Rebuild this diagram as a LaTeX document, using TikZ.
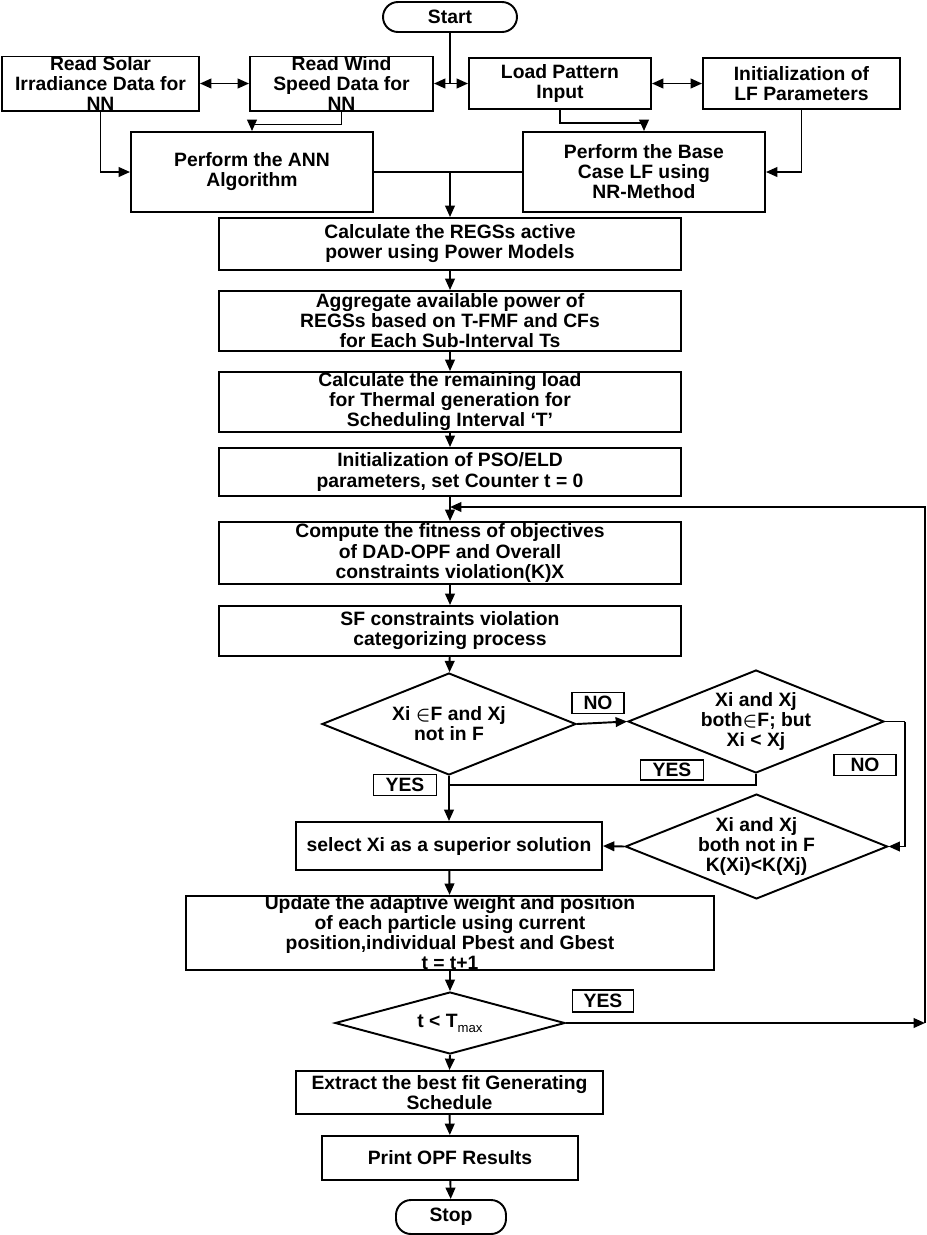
\documentclass[tikz,border=0pt]{standalone}
\usepackage{fontspec}
\setmainfont{Liberation Sans}
\usetikzlibrary{arrows.meta,shapes.geometric}
\begin{document}
\begin{tikzpicture}[x=0.02cm, y=-0.02cm, line width=1.1pt,
    every node/.style={font=\bfseries\fontsize{11}{11.4}\selectfont, align=center, inner sep=0pt},
    blk/.style={draw, rectangle},
    term/.style={draw, rectangle, rounded corners=0.3cm},
    dec/.style={draw, diamond, shape aspect=2.5},
    tag/.style={draw, rectangle, line width=0.9pt},
    arr/.style={-{Triangle[length=6.5pt,width=5.5pt]}},
    darr/.style={{Triangle[length=6.5pt,width=5.5pt]}-{Triangle[length=6.5pt,width=5.5pt]}}]
        \useasboundingbox (0,0) rectangle (927,1235);
        \coordinate (c1) at (450,17);
        \coordinate (c2) at (100.5,83.5);
        \coordinate (c3) at (341.5,83.5);
        \coordinate (c4) at (560,83.5);
        \coordinate (c5) at (801.5,83.5);
        \coordinate (c6) at (252,172);
        \coordinate (c7) at (644,172);
        \node[term, minimum width=2.68cm, minimum height=0.6cm] (start) at (c1) {Start};
        \node[blk, minimum width=3.94cm, minimum height=1.02cm] (solar) at (c2) {Read Solar\\Irradiance Data for\\NN};
        \node[blk, minimum width=3.66cm, minimum height=1.02cm] (wind) at (c3) {Read Wind\\Speed Data for\\NN};
        \node[blk, minimum width=3.64cm, minimum height=1.02cm] (load) at (c4) {Load Pattern\\Input};
        \node[blk, minimum width=3.94cm, minimum height=1.02cm] (lfinit) at (c5) {Initialization of\\LF Parameters};
        \node[blk, minimum width=4.84cm, minimum height=1.6cm] (ann) at (c6) {Perform the ANN\\Algorithm};
        \node[blk, minimum width=4.84cm, minimum height=1.6cm] (baself) at (c7) {Perform the Base\\Case LF using\\NR-Method};
        \node[blk, minimum width=9.24cm, minimum height=1.04cm] (regs) at (450,244) {Calculate the REGSs active\\power using Power Models};
        \node[blk, minimum width=9.24cm, minimum height=1.2cm] (aggr) at (450,321) {Aggregate available power of\\REGSs based on T-FMF and CFs\\for Each Sub-Interval Ts};
        \node[blk, minimum width=9.24cm, minimum height=1.2cm] (remain) at (450,402) {Calculate the remaining load\\for Thermal generation for\\Scheduling Interval ‘T’};
        \node[blk, minimum width=9.24cm, minimum height=0.96cm] (psoinit) at (450,472) {Initialization of PSO/ELD\\parameters, set Counter t = 0};
        \node[blk, minimum width=9.24cm, minimum height=1.24cm] (fitness) at (450,553) {Compute the fitness of objectives\\of DAD-OPF and Overall\\constraints violation(K)X};
        \node[blk, minimum width=9.24cm, minimum height=1.0cm] (sf) at (450,631) {SF constraints violation\\categorizing process};
        \node[dec, minimum width=5.08cm, minimum height=2.04cm] (dec1) at (449,724) {Xi {\boldmath$\in$}F and Xj\\not in F};
        \node[dec, minimum width=5.12cm, minimum height=2.06cm] (dec2) at (756,721.5) {Xi and Xj\\both{\boldmath$\in$}F; but\\Xi < Xj};
        \node[dec, minimum width=5.1cm, minimum height=2.06cm] (dec3) at (756.5,846.5) {Xi and Xj\\both not in F\\K(Xi)<K(Xj)};
        \node[blk, minimum width=6.12cm, minimum height=0.96cm] (select) at (449,846) {select Xi as a superior solution};
        \node[blk, minimum width=10.56cm, minimum height=1.48cm] (update) at (450,933) {Update the adaptive weight and position\\of each particle using current\\position,individual Pbest and Gbest\\t = t+1};
        \node[dec, shape aspect=3.7, minimum width=4.6cm, minimum height=1.24cm] (dec4) at (450,1023) {t < T\raisebox{-0.5ex}{\mdseries\fontsize{7.5}{7.5}\selectfont max}};
        \node[blk, minimum width=6.14cm, minimum height=0.86cm] (extract) at (449.5,1092.5) {Extract the best fit Generating\\Schedule};
        \node[blk, minimum width=5.12cm, minimum height=0.88cm] (print) at (450,1158) {Print OPF Results};
        \node[term, minimum width=2.2cm, minimum height=0.68cm] (stop) at (451,1217) {Stop};
        % decision labels
        \node[tag, minimum width=1.04cm, minimum height=0.42cm] (no1) at (598,703) {NO};
        \node[tag, minimum width=1.24cm, minimum height=0.42cm] (no2) at (865,765) {NO};
        \node[tag, minimum width=1.26cm, minimum height=0.4cm] (yes1) at (672,770) {YES};
        \node[tag, minimum width=1.26cm, minimum height=0.42cm] (yes2) at (405,785) {YES};
        \node[tag, minimum width=1.22cm, minimum height=0.44cm] (yes3) at (603,1001) {YES};
        \coordinate (j1) at (450,83.5);
        \coordinate (j2) at (450,172);
        \coordinate (j3) at (450,785);
        \coordinate (j4) at (905,721.5);
        \coordinate (l1) at (925,1023);
        \coordinate (l2) at (925,507);
        \coordinate (l3) at (450,507);
        \draw (start) -- (j1);
        \draw[arr] (j1) -- (wind.east);
        \draw[arr] (j1) -- (load.west);
        \draw[darr] (solar) -- (wind);
        \draw[darr] (load) -- (lfinit);
        \draw[arr] (solar.south) |- (ann.west);
        \draw[arr] (wind.south) -- ++(0,13) -| (ann.north);
        \draw[arr] (load.south) -- ++(0,13) -| (baself.north);
        \draw[arr] (lfinit.south) |- (baself.east);
        \draw (ann.east) -- (baself.west);
        \draw[arr] (j2) -- (regs.north);
        \draw[arr] (regs) -- (aggr);
        \draw[arr] (aggr) -- (remain);
        \draw[arr] (remain) -- (psoinit);
        \draw[arr] (psoinit) -- (fitness);
        \draw[arr] (fitness) -- (sf);
        \draw[arr] (sf) -- (dec1);
        \draw[arr] (dec1.east) -- (dec2.west);
        \draw (dec2.east) -- (j4);
        \draw[arr] (j4) |- (dec3.east);
        \draw (dec2.south) |- (j3);
        \draw[arr] (dec1.south) -- (select.north);
        \draw[arr] (dec3.west) -- (select.east);
        \draw[arr] (select) -- (update);
        \draw[arr] (update) -- (dec4);
        % loop back while t < Tmax
        \draw[arr] (dec4.east) -- (l1);
        \draw[arr] (l1) -- (l2) -- (l3);
        \draw[arr] (dec4.south) -- (extract.north);
        \draw[arr] (extract) -- (print);
        \draw[arr] (print) -- (stop);
\end{tikzpicture}
\end{document}
